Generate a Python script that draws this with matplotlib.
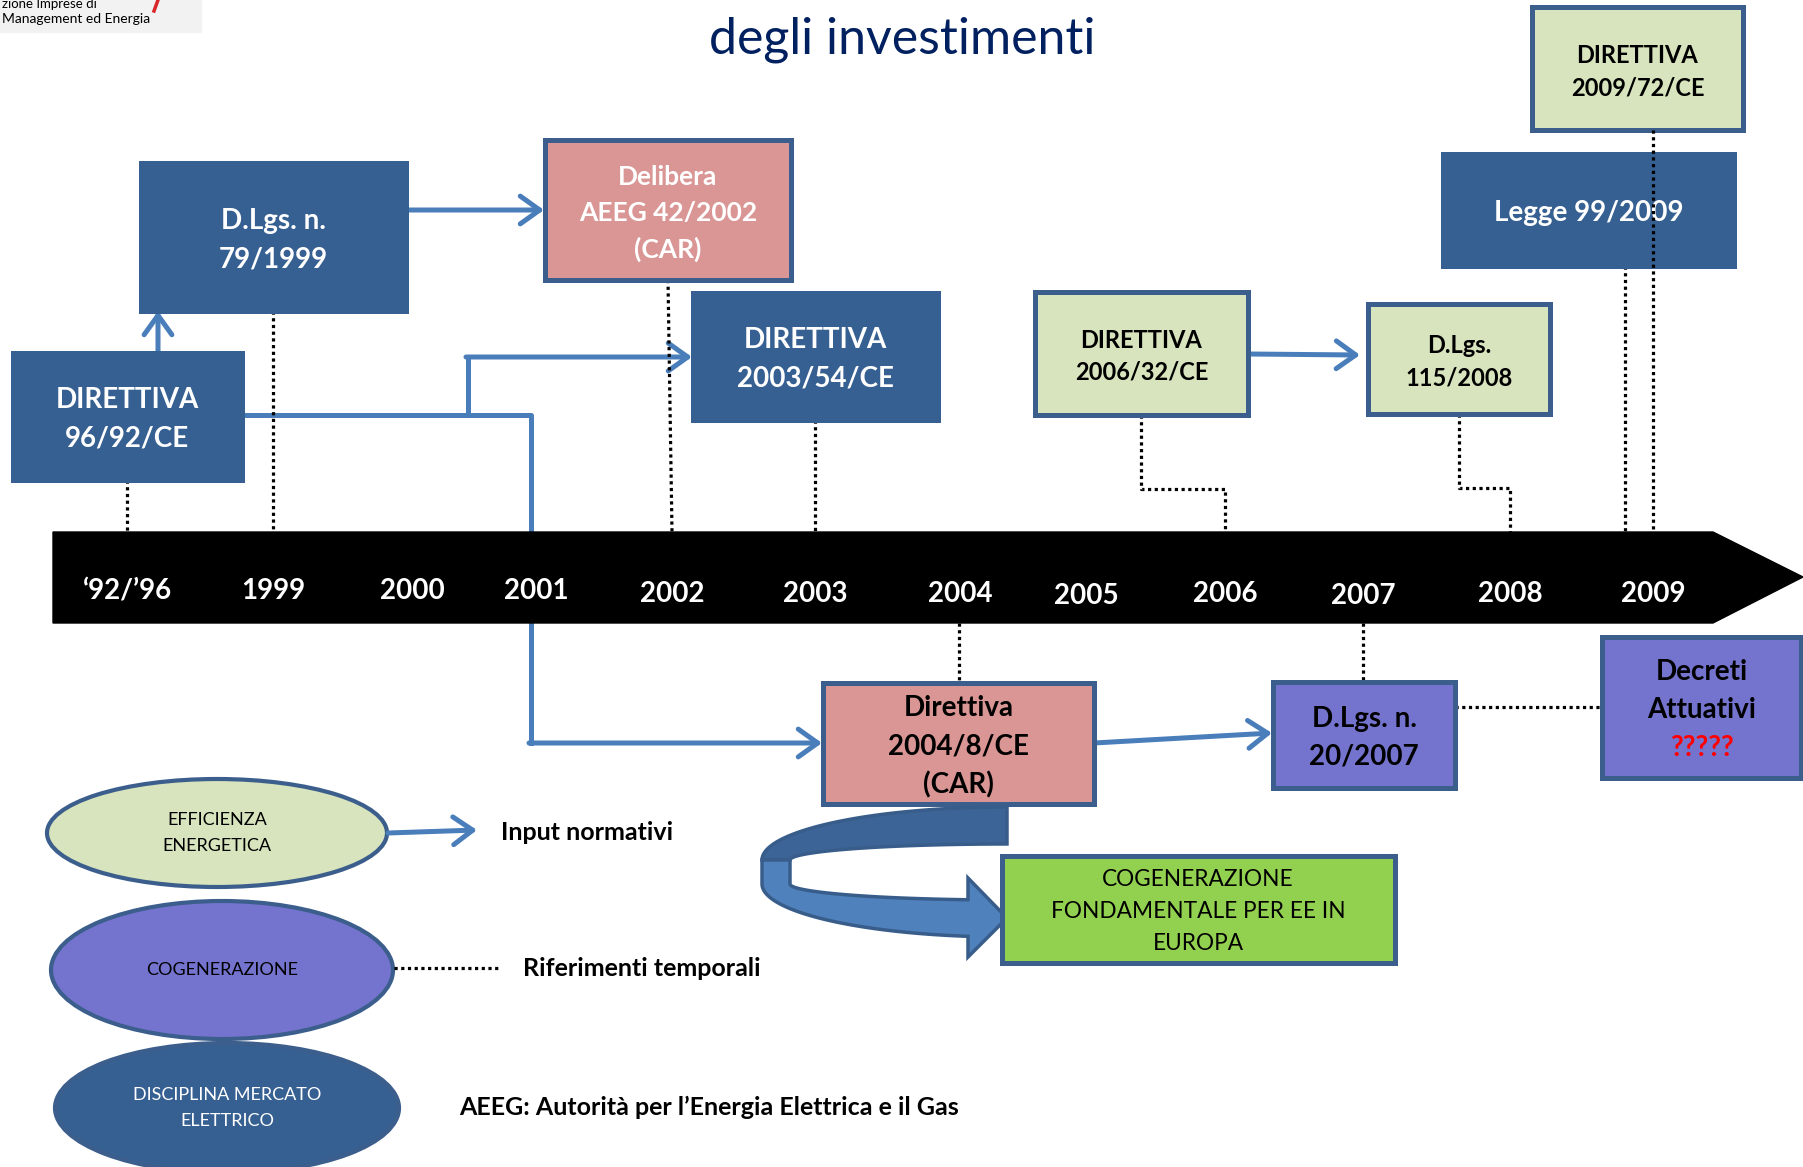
import numpy as np
import matplotlib.pyplot as plt
from matplotlib.patches import Rectangle, Ellipse, Polygon, FancyArrowPatch

plt.rcParams['font.family'] = ['Lato', 'DejaVu Sans']

# --- data -------------------------------------------------------------
years = ["\u201892/\u201996", "1999", "2000", "2001", "2002", "2003",
         "2004", "2005", "2006", "2007", "2008", "2009"]
year_x = [128, 273, 412, 536, 672, 815, 960, 1086, 1225, 1363, 1510, 1653]
year_y = [590, 591, 591, 591, 594, 594, 594, 596, 594, 596, 594, 594]

box_lines = [
    ["DIRETTIVA", "96/92/CE"],
    ["D.Lgs. n.", "79/1999"],
    ["Delibera", "AEEG 42/2002", "(CAR)"],
    ["DIRETTIVA", "2003/54/CE"],
    ["DIRETTIVA", "2006/32/CE"],
    ["D.Lgs.", "115/2008"],
    ["Legge 99/2009"],
    ["DIRETTIVA", "2009/72/CE"],
    ["Direttiva", "2004/8/CE", "(CAR)"],
    ["D.Lgs. n.", "20/2007"],
    ["Decreti", "Attuativi", "?????"],
]
box_kind = ["mercato", "mercato", "car", "mercato", "efficienza", "efficienza",
            "mercato", "efficienza", "car", "cog", "cog"]
box_text_color = ["white", "white", "white", "white", "black", "black",
                  "white", "black", "black", "black", "black"]
box_rect = [(13, 353, 242, 480), (141, 163, 406, 311), (545, 140, 791, 280),
            (693, 293, 938, 420), (1035, 292, 1248, 415), (1368, 304, 1550, 414),
            (1443, 154, 1734, 266), (1532, 7, 1743, 130), (823, 683, 1094, 804),
            (1273, 682, 1455, 788), (1602, 637, 1801, 778)]
box_fs = [20, 20, 19, 20, 17, 17, 20, 17, 20, 20, 20]
box_ls = [38, 39, 36, 39, 32, 33, 0, 32, 38, 38, 38]

legend_labels = ["EFFICIENZA\nENERGETICA", "COGENERAZIONE", "DISCIPLINA MERCATO\nELETTRICO"]
legend_kind = ["efficienza", "cog", "mercato"]

fill = {"mercato": "#376092", "car": "#d99694", "efficienza": "#d7e4bd",
        "cog": "#7474cf", "green": "#92d050"}
edge = "#3b5e8c"
blue = "#4a7ebb"

fig = plt.figure(figsize=(18.03, 11.67), dpi=100)
ax = fig.add_axes([0, 0, 1, 1])
ax.set_xlim(0, 1803)
ax.set_ylim(1167, 0)
ax.axis("off")

# logo corner + title
ax.add_patch(Rectangle((0, 0), 201, 32, color="#f2f2f2", zorder=1))
ax.text(2, 4, "zione Imprese di", fontsize=9.5, va="center", zorder=2)
ax.text(2, 19, "Management ed Energia", fontsize=10, va="center", zorder=2)
ax.plot([158, 154], [0, 11], color="#d9262b", lw=2.5, zorder=2)
ax.text(902, 40, "degli investimenti", fontsize=36, color="#002060",
        ha="center", va="center")

# timeline band
ax.add_patch(Polygon([(53, 532), (1713, 532), (1803, 577), (1713, 623), (53, 623)],
                     closed=True, color="black", zorder=2))
for lab, x, y in zip(years, year_x, year_y):
    ax.text(x, y, lab, color="white", fontsize=20, fontweight="bold",
            ha="center", va="center", zorder=3)


def arrow(p0, p1, z=1):
    ax.add_patch(FancyArrowPatch(p0, p1, arrowstyle="->,head_length=0.7,head_width=0.5",
                                 mutation_scale=20, color=blue, lw=3.6,
                                 shrinkA=0, shrinkB=0, zorder=z))


def dotted(xs, ys, z=1):
    ax.plot(xs, ys, color="black", lw=2.3, linestyle=(0, (1, 1.1)),
            dash_capstyle="butt", zorder=z)


# blue connectors
arrow((158, 353), (158, 311))
arrow((400, 210), (544, 210))
ax.plot([242, 531, 531, 531], [415, 415, 415, 743], color=blue, lw=3.6, zorder=1)
ax.plot([468, 468], [415, 357], color=blue, lw=3.6, zorder=1)
arrow((466, 357), (692, 357))
arrow((529, 743), (822, 743))
arrow((1094, 743), (1272, 733))
arrow((1248, 354), (1360, 355))

# dotted time references
dotted([127, 127], [480, 532])
dotted([273, 273], [311, 532])
dotted([668, 672], [280, 532])
dotted([815, 815], [420, 532])
dotted([1141, 1141, 1225, 1225], [415, 489, 489, 532])
dotted([1459, 1459, 1510, 1510], [414, 488, 488, 532])
dotted([1625, 1625], [266, 532])
dotted([1653, 1653], [130, 532], z=5)
dotted([959, 959], [623, 683])
dotted([1363, 1363], [623, 682])
dotted([1455, 1602], [707, 707])

# boxes
for lines, kind, tc, (x0, y0, x1, y1), fs, ls in zip(
        box_lines, box_kind, box_text_color, box_rect, box_fs, box_ls):
    ec = fill[kind] if kind == "mercato" else edge
    ax.add_patch(Rectangle((x0, y0), x1 - x0, y1 - y0, facecolor=fill[kind],
                           edgecolor=ec, lw=3.6, zorder=3))
    cx, cy = (x0 + x1) / 2, (y0 + y1) / 2 + 3
    n = len(lines)
    for i, s in enumerate(lines):
        c = "#ff0000" if s == "?????" else tc
        ax.text(cx, cy + (i - (n - 1) / 2) * ls, s, color=c, fontsize=fs,
                fontweight="bold", ha="center", va="center", zorder=4)

# curved arrow
cxa, cya, ao, bo, ai, bi, d = 1007, 860, 245, 53, 217, 16, 24
t = np.linspace(np.pi, 1.5 * np.pi, 60)
back = np.vstack([np.c_[cxa + ao * np.cos(t), cya + bo * np.sin(t)],
                  np.c_[cxa + ai * np.cos(t[::-1]), cya + bi * np.sin(t[::-1])]])
ax.add_patch(Polygon(back, closed=True, facecolor="#3c6496", edgecolor="#385d8a",
                     lw=2.5, zorder=3))
to = np.linspace(np.pi, np.arccos((968 - cxa) / ao), 60)
ti = np.linspace(np.arccos((968 - cxa) / ai), np.pi, 60)
front = np.vstack([[(762, 860)],
                   np.c_[cxa + ao * np.cos(to), cya + d + bo * np.sin(to)],
                   [(968, 957), (1007, 918), (968, 878)],
                   np.c_[cxa + ai * np.cos(ti), cya + d + bi * np.sin(ti)],
                   [(790, 860)]])
ax.add_patch(Polygon(front, closed=True, facecolor="#4f81bd", edgecolor="#385d8a",
                     lw=2.5, zorder=3))

# green box
ax.add_patch(Rectangle((1002, 856), 393, 107, facecolor=fill["green"],
                       edgecolor=edge, lw=3.6, zorder=3))
for i, s in enumerate(["COGENERAZIONE", "FONDAMENTALE PER EE IN", "EUROPA"]):
    ax.text(1198, 879 + i * 32, s, fontsize=16.3, ha="center", va="center", zorder=4)

# legend
ell = [(217, 833, 340, 108), (222, 970, 342, 138), (227, 1108, 344, 130)]
for lab, kind, (ex, ey, w, h) in zip(legend_labels, legend_kind, ell):
    ax.add_patch(Ellipse((ex, ey), w, h, facecolor=fill[kind], edgecolor=edge,
                         lw=3, zorder=3))
    ax.text(ex, ey, lab, fontsize=13, ha="center", va="center", linespacing=1.75,
            color="white" if kind == "mercato" else "black", zorder=4)
arrow((388, 833), (477, 830), z=4)
ax.text(501, 832, "Input normativi", fontsize=18, fontweight="bold", va="center")
dotted([394, 500], [968, 968], z=4)
ax.text(523, 969, "Riferimenti temporali", fontsize=18, fontweight="bold", va="center")
ax.text(459, 1107, "AEEG: Autorit\u00e0 per l\u2019Energia Elettrica e il Gas",
        fontsize=18, fontweight="bold", va="center")

fig.savefig("out.png", dpi=100)
